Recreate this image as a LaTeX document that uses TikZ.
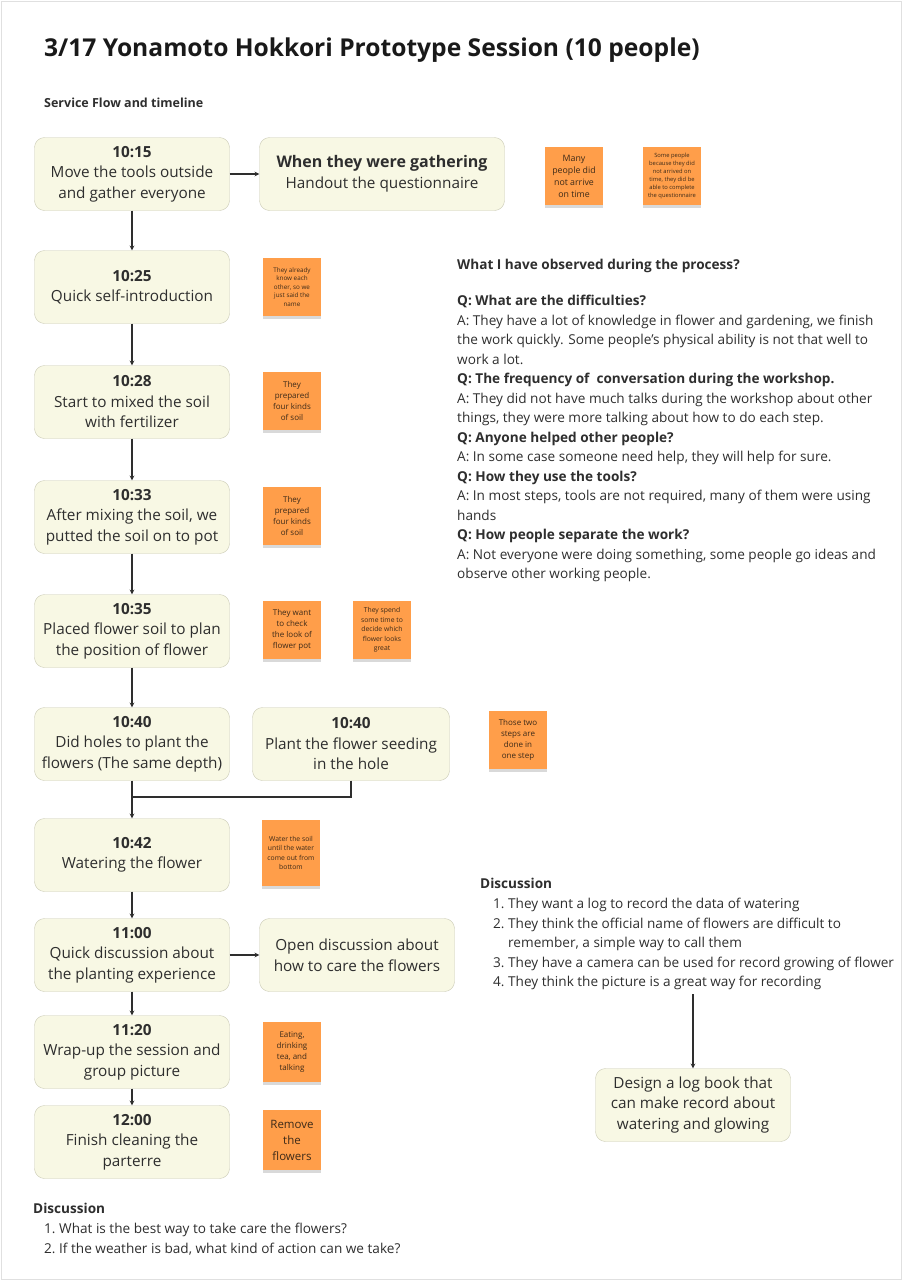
\documentclass[tikz,border=0pt]{standalone}
\usepackage{fontspec}
\setmainfont{Open Sans}
\usetikzlibrary{shadows}
\definecolor{boxfill}{HTML}{F8F8E4}
\definecolor{boxline}{HTML}{C9C9B4}
\definecolor{notefill}{HTML}{FF9E4A}
\definecolor{notetext}{HTML}{3D2A18}
\definecolor{ink}{HTML}{2E2E2E}
\tikzset{
  stepbox/.style={draw=boxline,fill=boxfill,rounded corners=10pt,minimum width=195pt,minimum height=73pt,
    align=center,inner sep=2pt,text=ink,font=\fontsize{15.3}{20.5}\selectfont},
  note/.style={fill=notefill,minimum width=58pt,minimum height=58pt,align=center,inner sep=1pt,text=notetext,
    drop shadow={shadow xshift=0pt,shadow yshift=-3pt,opacity=0.25,fill=black!60},font=\fontsize{6.3}{8.5}\selectfont},
  flow/.style={->,>=stealth,line width=1.1pt,draw=ink},
  plain/.style={anchor=north west,align=left,inner sep=0pt,text=ink,font=\fontsize{13.6}{19.5}\selectfont}
}
\begin{document}
\begin{tikzpicture}[x=1pt,y=-1pt]
\useasboundingbox (0,0) rectangle (902,1280);
\draw[black!12] (1,1) rectangle (901,1279);
%title
\node[anchor=west,inner sep=0pt,text=black!90,font=\fontsize{24.6}{28}\bfseries] (title) at (44,50) {3/17 Yonamoto Hokkori Prototype Session (10 people)};
\node[anchor=west,inner sep=0pt,text=ink,font=\fontsize{12.5}{14}\bfseries] (sub) at (44,103) {Service Flow and timeline};
%steps
\node[stepbox] (b1) at (132,174) {\textbf{10:15}\\Move the tools outside\\and gather everyone};
\node[stepbox,minimum width=245pt] (b1r) at (382,174) {{\fontsize{16}{20.5}\bfseries When they were gathering}\\Handout the questionnaire};
\node[stepbox] (b2) at (132,287) {\textbf{10:25}\\Quick self-introduction};
\node[stepbox] (b3) at (132,402) {\textbf{10:28}\\Start to mixed the soil\\with fertilizer};
\node[stepbox] (b4) at (132,517) {\textbf{10:33}\\After mixing the soil, we\\putted the soil on to pot};
\node[stepbox] (b5) at (132,631) {\textbf{10:35}\\Placed flower soil to plan\\the position of flower};
\node[stepbox] (b6) at (132,744) {\textbf{10:40}\\Did holes to plant the\\flowers (The same depth)};
\node[stepbox,minimum width=197pt] (b6r) at (351,744) {\textbf{10:40}\\Plant the flower seeding\\in the hole};
\node[stepbox] (b7) at (132,855) {\textbf{10:42}\\Watering the flower};
\node[stepbox] (b8) at (132,955) {\textbf{11:00}\\Quick discussion about\\the planting experience};
\node[stepbox] (b8r) at (357,955) {Open discussion about\\how to care the flowers};
\node[stepbox] (b9) at (132,1052) {\textbf{11:20}\\Wrap-up the session and\\group picture};
\node[stepbox] (b10) at (132,1142) {\textbf{12:00}\\Finish cleaning the\\parterre};
%notes
\node[note,font=\fontsize{8.8}{12}\selectfont] (n1) at (574,176) {Many\\people did\\not arrive\\on time};
\node[note,font=\fontsize{5.8}{8}\selectfont] (n2) at (672,176) {Some people\\because they did\\not arrived on\\time, they did be\\able to complete\\the questionnaire};
\node[note] (n3) at (292,287) {They already\\know each\\other, so we\\just said the\\name};
\node[note,font=\fontsize{8}{11}\selectfont] (n4) at (292,401) {They\\prepared\\four kinds\\of soil};
\node[note,font=\fontsize{8}{11}\selectfont] (n5) at (292,516) {They\\prepared\\four kinds\\of soil};
\node[note,font=\fontsize{8}{11}\selectfont] (n6) at (292,630) {They want\\to check\\the look of\\flower pot};
\node[note,font=\fontsize{6.8}{9.5}\selectfont] (n7) at (382,630) {They spend\\some time to\\decide which\\flower looks\\great};
\node[note,font=\fontsize{8}{11}\selectfont] (n8) at (518,740) {Those two\\steps are\\done in\\one step};
\node[note,minimum height=66pt,font=\fontsize{6.8}{9.5}\selectfont] (n9) at (291,853) {Water the soil\\until the water\\come out from\\bottom};
\node[note,minimum height=60pt,font=\fontsize{8}{11}\selectfont] (n10) at (292,1052) {Eating,\\drinking\\tea, and\\talking};
\node[note,minimum height=60pt,font=\fontsize{11.5}{16}\selectfont] (n11) at (292,1140) {Remove\\the\\flowers};
%connectors
\coordinate (j) at (132,797);
\draw[flow] (b1) -- (b1r);
\draw[flow] (b1) -- (b2);
\draw[flow] (b2) -- (b3);
\draw[flow] (b3) -- (b4);
\draw[flow] (b4) -- (b5);
\draw[flow] (b5) -- (b6);
\draw[line width=1.1pt,ink] (b6.south) -- (j);
\draw[line width=1.1pt,ink] (b6r.south) |- (j);
\draw[flow] (j) -- (b7.north);
\draw[flow] (b7) -- (b8);
\draw[flow] (b8) -- (b8r);
\draw[flow] (b8) -- (b9);
\draw[flow] (b9) -- (b10);
%observations
\node[plain,font=\fontsize{13.6}{19.5}\bfseries] (obs) at (457,259) {What I have observed during the process?};
\node[plain] (qa) at (457,295) {\textbf{Q: What are the difficulties?}\\
A: They have a lot of knowledge in flower and gardening, we finish\\
the work quickly. Some people's physical ability is not that well to\\
work a lot.\\
\textbf{Q: The frequency of \ conversation during the workshop.}\\
A: They did not have much talks during the workshop about other\\
things, they were more talking about how to do each step.\\
\textbf{Q: Anyone helped other people?}\\
A: In some case someone need help, they will help for sure.\\
\textbf{Q: How they use the tools?}\\
A: In most steps, tools are not required, many of them were using\\
hands\\
\textbf{Q: How people separate the work?}\\
A: Not everyone were doing something, some people go ideas and\\
observe other working people.};
%discussion right
\node[plain,font=\fontsize{13.6}{19.5}\bfseries] (disc1) at (480,878) {Discussion};
\node[plain] (disc2) at (493,898) {\makebox[15pt][l]{1.}They want a log to record the data of watering\\
\makebox[15pt][l]{2.}They think the official name of flowers are difficult to\\
\hspace*{15pt}remember, a simple way to call them\\
\makebox[15pt][l]{3.}They have a camera can be used for record growing of flower\\
\makebox[15pt][l]{4.}They think the picture is a great way for recording};
\node[stepbox] (design) at (693,1105) {Design a log book that\\can make record about\\watering and glowing};
\draw[flow] (design.north |- disc2.south) ++(0,4) -- (design.north);
%discussion bottom
\node[plain,font=\fontsize{13.6}{19.5}\bfseries] (disc3) at (33,1203) {Discussion};
\node[plain] (disc4) at (44,1223) {\makebox[15pt][l]{1.}What is the best way to take care the flowers?\\
\makebox[15pt][l]{2.}If the weather is bad, what kind of action can we take?};
\end{tikzpicture}
\end{document}
